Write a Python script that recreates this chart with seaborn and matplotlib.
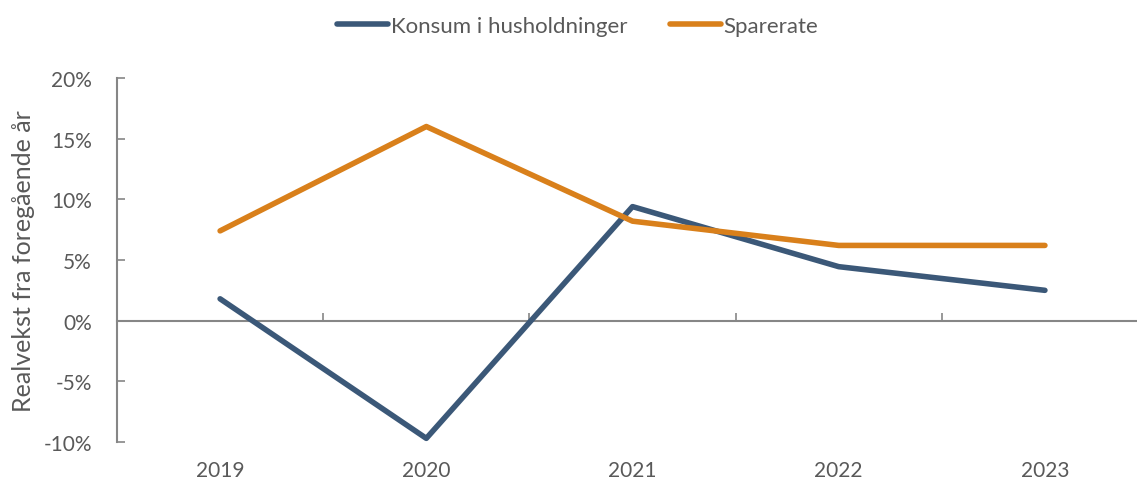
import pandas as pd
import matplotlib.pyplot as plt
import seaborn as sns
from matplotlib.ticker import FixedLocator, PercentFormatter

# Data
years = ['2019', '2020', '2021', '2022', '2023']
konsum = [1.8, -9.7, 9.4, 4.45, 2.5]
sparerate = [7.4, 16.0, 8.2, 6.2, 6.2]
series_names = ['Konsum i husholdninger', 'Sparerate']
colors = ['#3B5878', '#D9801B']
text_color = '#595959'
axis_color = '#868686'

df = pd.DataFrame({
    'År': years * 2,
    'Verdi': konsum + sparerate,
    'Serie': [series_names[0]] * len(years) + [series_names[1]] * len(years),
})

sns.set_style('white')
plt.rcParams['font.family'] = ['Lato', 'DejaVu Sans']
plt.rcParams['axes.unicode_minus'] = False

fig = plt.figure(figsize=(11.37, 4.81), dpi=100)
ax = fig.add_axes([0.1029, 0.079, 0.9068, 0.7568])

sns.lineplot(data=df, x='År', y='Verdi', hue='Serie', palette=colors,
             linewidth=4, ax=ax, legend=True, sort=False)
for line in ax.lines:
    line.set_solid_capstyle('round')

ax.set_xlim(-0.5, len(years) - 0.5)
ax.set_ylim(-10, 20)
ax.yaxis.set_major_locator(FixedLocator([-10, -5, 0, 5, 10, 15, 20]))
ax.yaxis.set_major_formatter(PercentFormatter(decimals=0))

for side in ['top', 'right']:
    ax.spines[side].set_visible(False)
ax.spines['left'].set_color(axis_color)
ax.spines['left'].set_linewidth(1.5)
ax.spines['bottom'].set_position(('data', 0))
ax.spines['bottom'].set_color(axis_color)
ax.spines['bottom'].set_linewidth(1.5)
ax.spines['bottom'].set_zorder(0)

ax.tick_params(axis='y', direction='in', length=6, width=1.2, color=axis_color,
               labelsize=15, labelcolor=text_color, pad=18, left=True)
# tick marks between categories on the zero line, labels on a secondary axis
ax.set_xticks([i + 0.5 for i in range(len(years) - 1)], minor=True)
ax.tick_params(axis='x', which='minor', direction='in', length=6, width=1.2,
               color=axis_color, bottom=True)
ax.tick_params(axis='x', which='major', length=0, labelbottom=False)

sec = ax.secondary_xaxis(0)
sec.set_xticks(range(len(years)))
sec.set_xticklabels(years)
sec.spines['bottom'].set_visible(False)
sec.tick_params(length=0, labelsize=15, labelcolor=text_color, pad=13)

ax.set_xlabel('')
ax.set_ylabel('Realvekst fra foregående år', fontsize=18, color=text_color)
ax.yaxis.set_label_coords(-0.08, 0.5)

handles, labels = ax.get_legend_handles_labels()
ax.get_legend().remove()
fig.legend(handles, labels, loc='center', bbox_to_anchor=(0.508, 0.944), ncol=2,
           frameon=False, fontsize=16, handlelength=2.3, columnspacing=1.9,
           handletextpad=0.12, labelcolor=text_color)

fig.savefig('out.png', dpi=100)
